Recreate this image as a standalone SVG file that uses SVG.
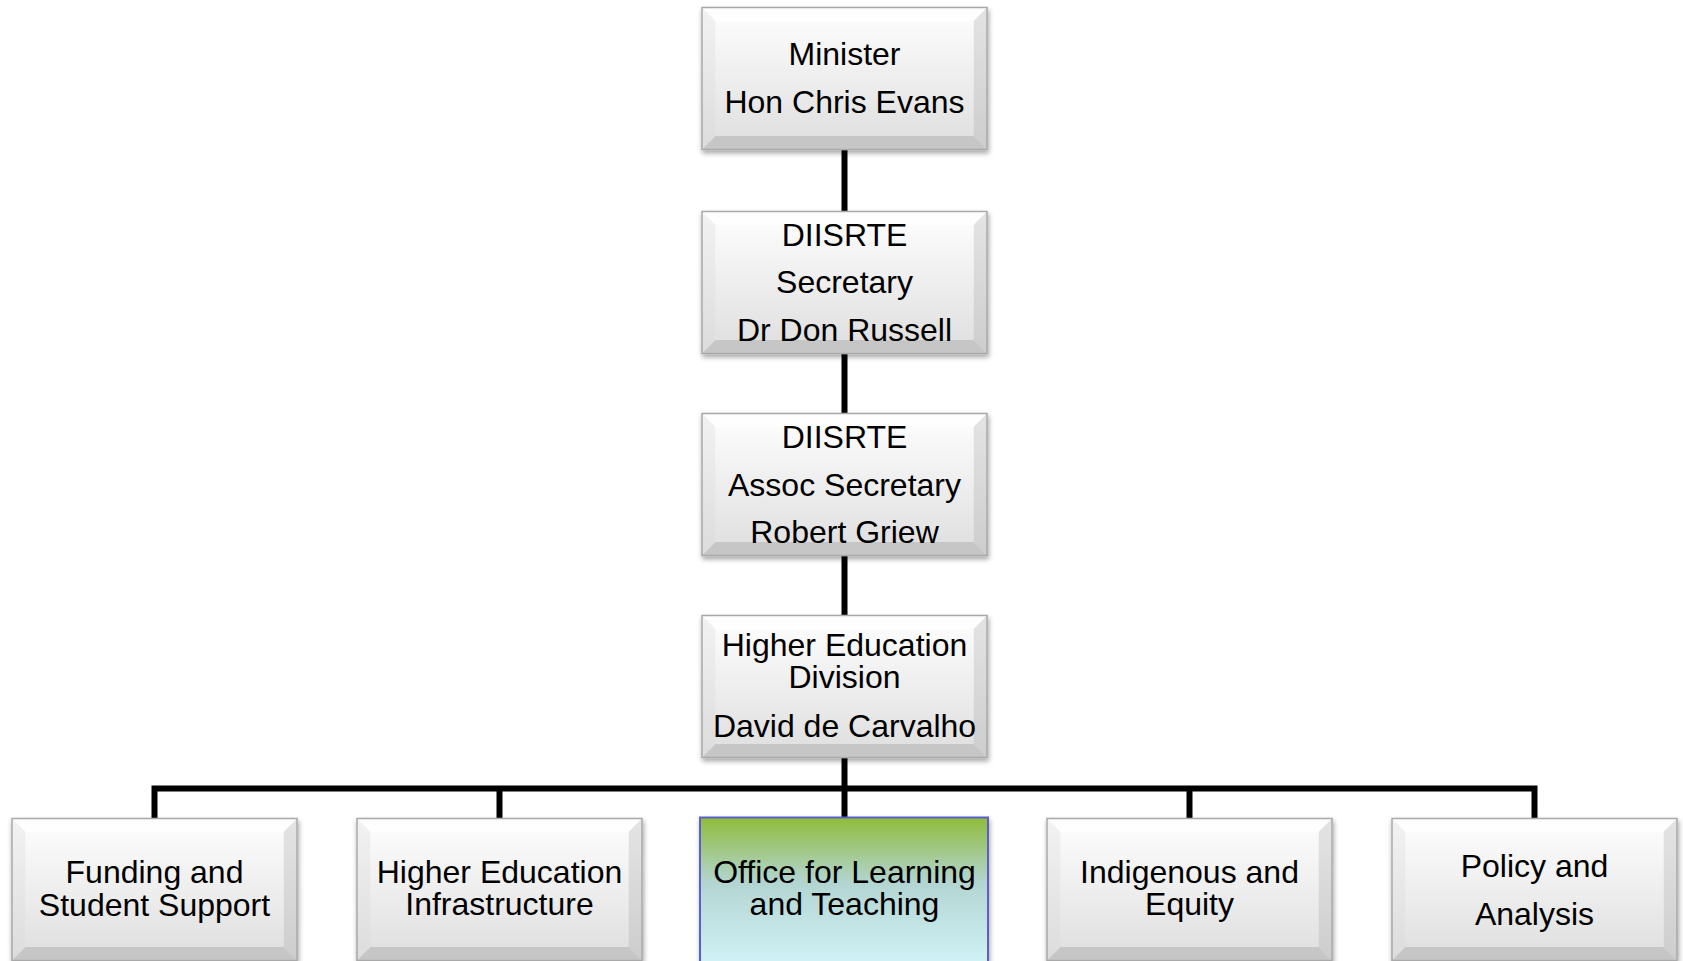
<svg xmlns="http://www.w3.org/2000/svg" xmlns:xlink="http://www.w3.org/1999/xlink" width="1683" height="961" viewBox="0 0 1683 961">
  <defs>
    <linearGradient id="faceGrad" x1="0" y1="0" x2="0" y2="1">
      <stop offset="0" stop-color="#fbfbfb"/>
      <stop offset="1" stop-color="#e1e1e1"/>
    </linearGradient>
    <linearGradient id="leftGrad" x1="0" y1="0" x2="0" y2="1">
      <stop offset="0" stop-color="#f2f2f2"/>
      <stop offset="1" stop-color="#dcdcdc"/>
    </linearGradient>
    <linearGradient id="rightGrad" x1="0" y1="0" x2="0" y2="1">
      <stop offset="0" stop-color="#e4e4e4"/>
      <stop offset="1" stop-color="#cdcdcd"/>
    </linearGradient>
    <linearGradient id="officeGrad" x1="0" y1="0" x2="0" y2="1">
      <stop offset="0" stop-color="#8fbc3a"/>
      <stop offset="0.45" stop-color="#b3d5d2"/>
      <stop offset="1" stop-color="#d0f1f6"/>
    </linearGradient>
    <filter id="shadow" x="-5%" y="-5%" width="112%" height="118%">
      <feDropShadow dx="1" dy="3" stdDeviation="2.5" flood-color="#000" flood-opacity="0.35"/>
    </filter>
    <g id="bevel">
      <rect x="0" y="0" width="286" height="143" fill="url(#faceGrad)"/>
      <polygon points="0,0 286,0 272,14 14,14" fill="#fefefe"/>
      <polygon points="0,0 14,14 14,129 0,143" fill="url(#leftGrad)"/>
      <polygon points="286,0 286,143 272,129 272,14" fill="url(#rightGrad)"/>
      <polygon points="0,143 14,129 272,129 286,143" fill="#c6c6c6"/>
      <rect x="14" y="14" width="258" height="115" fill="url(#faceGrad)"/>
      <rect x="0.5" y="0.5" width="285" height="142" fill="none" stroke="#a9a9a9" stroke-width="1.5"/>
    </g>
  </defs>
  <style>
    .lbl { font-family: "Liberation Sans", Arial, sans-serif; font-size: 32px; fill: #000; text-anchor: middle; }
    .conn { fill: none; stroke: #000; stroke-width: 6; stroke-linejoin: miter; stroke-linecap: butt; }
  </style>

  <rect width="1683" height="961" fill="#fff"/>

  <g id="connectors">
    <line class="conn" x1="844.5" y1="148" x2="844.5" y2="820"/>
    <path class="conn" d="M154.5,820 V788.5 H1534.5 V820"/>
    <line class="conn" x1="499.5" y1="788.5" x2="499.5" y2="820"/>
    <line class="conn" x1="1189.5" y1="788.5" x2="1189.5" y2="820"/>
  </g>

  <g id="minister">
    <use xlink:href="#bevel" href="#bevel" x="701.5" y="7" filter="url(#shadow)"/>
    <text class="lbl" x="844.5" y="65">Minister</text>
    <text class="lbl" x="844.5" y="113">Hon Chris Evans</text>
  </g>

  <g id="secretary">
    <use xlink:href="#bevel" href="#bevel" x="701.5" y="211" filter="url(#shadow)"/>
    <text class="lbl" x="844.5" y="246">DIISRTE</text>
    <text class="lbl" x="844.5" y="293">Secretary</text>
    <text class="lbl" x="844.5" y="341">Dr Don Russell</text>
  </g>

  <g id="assoc-secretary">
    <use xlink:href="#bevel" href="#bevel" x="701.5" y="413" filter="url(#shadow)"/>
    <text class="lbl" x="844.5" y="448">DIISRTE</text>
    <text class="lbl" x="844.5" y="496">Assoc Secretary</text>
    <text class="lbl" x="844.5" y="543">Robert Griew</text>
  </g>

  <g id="he-division">
    <use xlink:href="#bevel" href="#bevel" x="701.5" y="615" filter="url(#shadow)"/>
    <text class="lbl" x="844.5" y="656">Higher Education</text>
    <text class="lbl" x="844.5" y="688">Division</text>
    <text class="lbl" x="844.5" y="737">David de Carvalho</text>
  </g>

  <g id="funding">
    <use xlink:href="#bevel" href="#bevel" x="11.5" y="818" filter="url(#shadow)"/>
    <text class="lbl" x="154.5" y="883">Funding and</text>
    <text class="lbl" x="154.5" y="916">Student Support</text>
  </g>

  <g id="infrastructure">
    <use xlink:href="#bevel" href="#bevel" x="356.5" y="818" filter="url(#shadow)"/>
    <text class="lbl" x="499.5" y="883">Higher Education</text>
    <text class="lbl" x="499.5" y="915">Infrastructure</text>
  </g>

  <g id="office">
    <rect x="700" y="817.5" width="288" height="145" fill="url(#officeGrad)" stroke="#5b5fc7" stroke-width="2" filter="url(#shadow)"/>
    <text class="lbl" x="844.5" y="883">Office for Learning</text>
    <text class="lbl" x="844.5" y="915">and Teaching</text>
  </g>

  <g id="indigenous">
    <use xlink:href="#bevel" href="#bevel" x="1046.5" y="818" filter="url(#shadow)"/>
    <text class="lbl" x="1189.5" y="883">Indigenous and</text>
    <text class="lbl" x="1189.5" y="915">Equity</text>
  </g>

  <g id="policy">
    <use xlink:href="#bevel" href="#bevel" x="1391.5" y="818" filter="url(#shadow)"/>
    <text class="lbl" x="1534.5" y="877">Policy and</text>
    <text class="lbl" x="1534.5" y="925">Analysis</text>
  </g>
</svg>
